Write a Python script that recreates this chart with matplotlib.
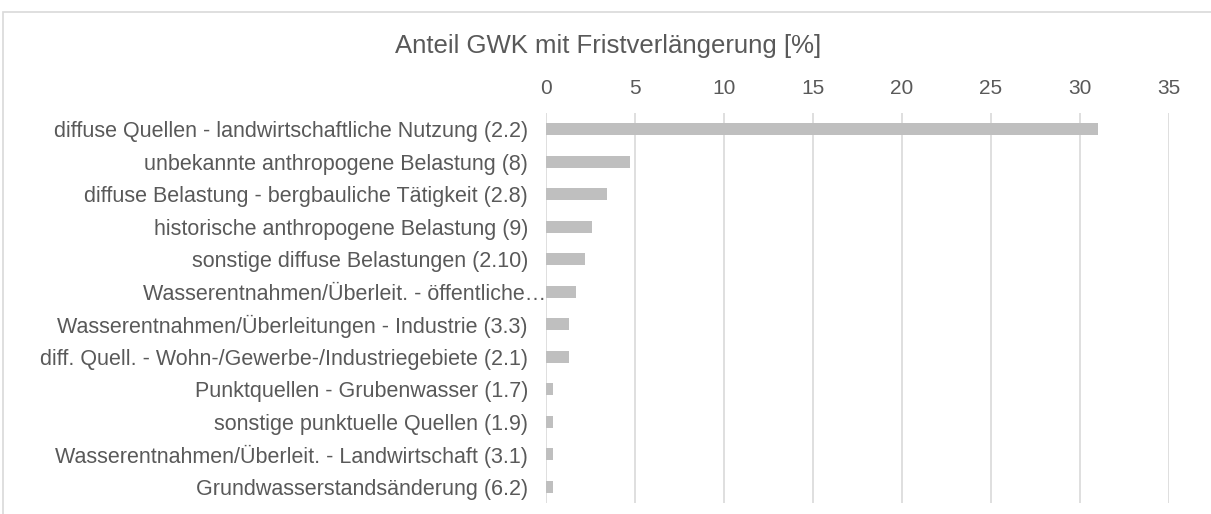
import matplotlib.pyplot as plt
from matplotlib.patches import Rectangle

# Belastungskategorien (von oben nach unten) und Anteil GWK in %
categories = [
    "diffuse Quellen - landwirtschaftliche Nutzung (2.2)",
    "unbekannte anthropogene Belastung (8)",
    "diffuse Belastung - bergbauliche Tätigkeit (2.8)",
    "historische anthropogene Belastung (9)",
    "sonstige diffuse Belastungen (2.10)",
    "Wasserentnahmen/Überleit. - öffentliche…",
    "Wasserentnahmen/Überleitungen - Industrie (3.3)",
    "diff. Quell. - Wohn-/Gewerbe-/Industriegebiete (2.1)",
    "Punktquellen - Grubenwasser (1.7)",
    "sonstige punktuelle Quellen (1.9)",
    "Wasserentnahmen/Überleit. - Landwirtschaft (3.1)",
    "Grundwasserstandsänderung (6.2)",
]
anteil = [31.0, 4.7, 3.4, 2.6, 2.2, 1.7, 1.3, 1.3, 0.4, 0.4, 0.4, 0.4]
x_ticks = [0, 5, 10, 15, 20, 25, 30, 35]

text_col = "#595959"
plt.rcParams["font.family"] = ["Liberation Sans", "DejaVu Sans"]

fig = plt.figure(figsize=(12.11, 5.14), dpi=100)
ax = fig.add_axes([0.4509, 0.0214, 0.5144, 0.7588])

# Rahmen um das Diagramm
fig.patches.append(Rectangle((3 / 1211, -0.05), 1.2, 1 - 12 / 514 + 0.05,
                             transform=fig.transFigure, fill=False,
                             edgecolor="#D9D9D9", linewidth=1.2))

y = list(range(len(categories)))
ax.barh(y, anteil, height=0.36, color="#BFBFBF", zorder=3)

ax.set_ylim(len(categories) - 0.5, -0.5)
ax.set_xlim(0, 35)
ax.set_xticks(x_ticks)
ax.set_yticks(y)
ax.set_yticklabels(categories)

ax.xaxis.tick_top()
ax.tick_params(axis="x", length=0, pad=11, labelsize=15, labelcolor=text_col)
ax.tick_params(axis="y", length=0, pad=13, labelsize=15.5, labelcolor=text_col)
# abgeschnittene Beschriftung reicht bis an die Achse
ax.yaxis.get_major_ticks()[5].set_pad(0)

ax.grid(axis="x", color="#D9D9D9", linewidth=1.2, zorder=0)
for s in ax.spines.values():
    s.set_visible(False)

fig.text(608 / 1211, 1 - 46 / 514, "Anteil GWK mit Fristverlängerung [%]",
         ha="center", va="center", fontsize=18.5, color=text_col)

fig.savefig("out.png", dpi=100)
